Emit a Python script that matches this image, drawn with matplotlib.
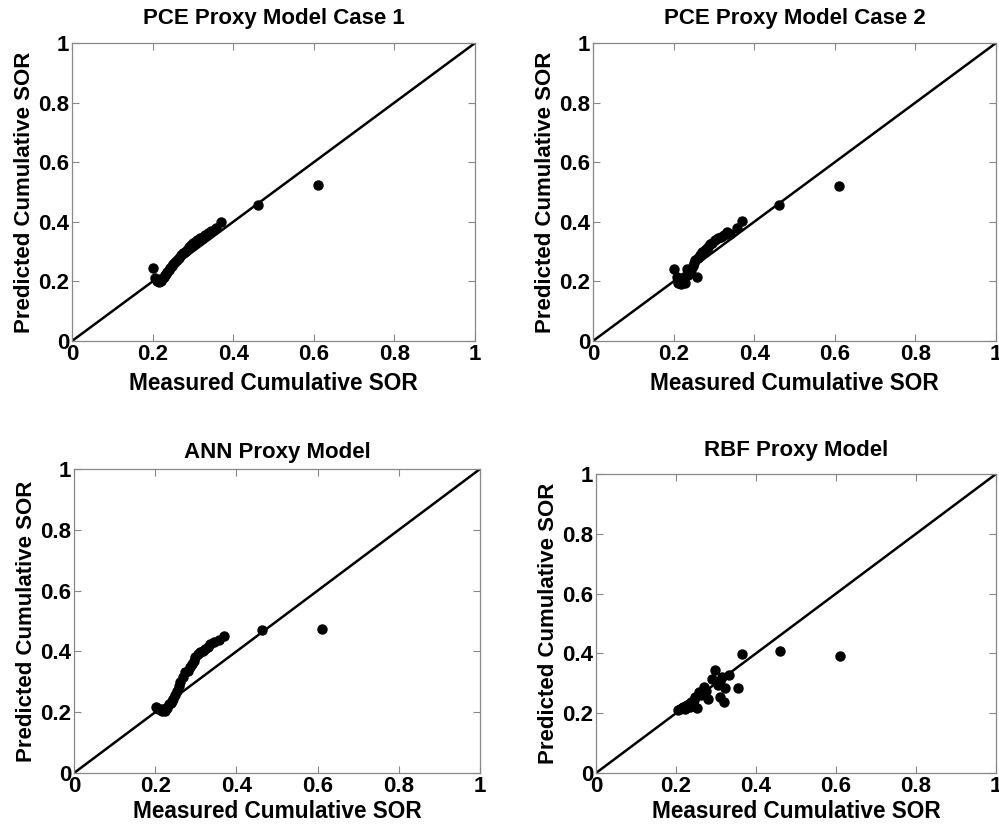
import matplotlib
matplotlib.use("Agg")
from matplotlib import pyplot as plt

# Measured vs predicted cumulative SOR
pce1_meas = [0.200, 0.205, 0.210, 0.212, 0.215, 0.218, 0.220, 0.222, 0.225, 0.228,
             0.230, 0.233, 0.236, 0.240, 0.243, 0.247, 0.250, 0.255, 0.260, 0.265,
             0.270, 0.275, 0.280, 0.285, 0.290, 0.295, 0.300, 0.305, 0.310, 0.318,
             0.325, 0.330, 0.337, 0.345, 0.357, 0.369, 0.462, 0.610]
pce1_pred = [0.245, 0.212, 0.205, 0.200, 0.198, 0.202, 0.208, 0.200, 0.210, 0.215,
             0.222, 0.226, 0.232, 0.238, 0.245, 0.252, 0.258, 0.265, 0.272, 0.280,
             0.288, 0.295, 0.300, 0.306, 0.315, 0.322, 0.328, 0.333, 0.339, 0.345,
             0.350, 0.356, 0.362, 0.370, 0.379, 0.400, 0.458, 0.525]

pce2_meas = [0.202, 0.208, 0.212, 0.215, 0.218, 0.222, 0.225, 0.228, 0.232, 0.236,
             0.240, 0.243, 0.247, 0.250, 0.253, 0.257, 0.260, 0.265, 0.270, 0.275,
             0.280, 0.285, 0.290, 0.295, 0.303, 0.310, 0.318, 0.325, 0.332, 0.340,
             0.357, 0.369, 0.462, 0.610]
pce2_pred = [0.240, 0.215, 0.195, 0.205, 0.190, 0.200, 0.215, 0.195, 0.243, 0.222,
             0.230, 0.238, 0.250, 0.262, 0.271, 0.215, 0.280, 0.288, 0.298, 0.302,
             0.310, 0.315, 0.325, 0.330, 0.338, 0.345, 0.350, 0.356, 0.366, 0.360,
             0.380, 0.402, 0.458, 0.520]

ann_meas = [0.202, 0.208, 0.212, 0.216, 0.220, 0.224, 0.228, 0.233, 0.238, 0.242,
            0.245, 0.249, 0.253, 0.258, 0.262, 0.268, 0.274, 0.280, 0.285, 0.290,
            0.295, 0.299, 0.305, 0.311, 0.317, 0.323, 0.330, 0.336, 0.346, 0.356,
            0.369, 0.462, 0.610]
ann_pred = [0.216, 0.212, 0.210, 0.205, 0.210, 0.205, 0.215, 0.227, 0.230, 0.238,
            0.243, 0.255, 0.271, 0.285, 0.298, 0.315, 0.331, 0.335, 0.348, 0.359,
            0.370, 0.380, 0.390, 0.397, 0.400, 0.408, 0.415, 0.425, 0.430, 0.438,
            0.452, 0.469, 0.475]

rbf_meas = [0.205, 0.210, 0.215, 0.218, 0.222, 0.225, 0.228, 0.232, 0.235, 0.238,
            0.242, 0.245, 0.248, 0.253, 0.257, 0.262, 0.269, 0.275, 0.281, 0.290,
            0.298, 0.305, 0.310, 0.310, 0.315, 0.320, 0.322, 0.333, 0.356, 0.366,
            0.459, 0.610]
rbf_pred = [0.212, 0.215, 0.218, 0.222, 0.215, 0.225, 0.228, 0.232, 0.222, 0.238,
            0.230, 0.245, 0.255, 0.219, 0.270, 0.262, 0.289, 0.275, 0.248, 0.314,
            0.345, 0.295, 0.307, 0.255, 0.320, 0.238, 0.285, 0.329, 0.285, 0.398,
            0.407, 0.390]

titles = ["PCE Proxy Model Case 1", "PCE Proxy Model Case 2",
          "ANN Proxy Model", "RBF Proxy Model"]
series = [(pce1_meas, pce1_pred), (pce2_meas, pce2_pred),
          (ann_meas, ann_pred), (rbf_meas, rbf_pred)]
ticks = [0, 0.2, 0.4, 0.6, 0.8, 1]
tick_labels = ["0", "0.2", "0.4", "0.6", "0.8", "1"]

plt.rcParams['font.family'] = ['Liberation Sans', 'DejaVu Sans']
plt.rcParams['font.weight'] = 'bold'

fig = plt.figure(figsize=(9.99, 8.24), dpi=100)

# axes boxes in figure fractions: left, bottom, width, height
boxes = [
    [0.0721, 0.5862, 0.4034, 0.3616],
    [0.5936, 0.5862, 0.4034, 0.3616],
    [0.0741, 0.0619, 0.4064, 0.3689],
    [0.5966, 0.0619, 0.4004, 0.3629],
]
title_pads = [14, 14, 8, 13]
xlabel_pads = [5, 5, 2, 2]

for i, (box, title, (meas, pred)) in enumerate(zip(boxes, titles, series)):
    ax = fig.add_axes(box)
    ax.plot([0, 1], [0, 1], color='black', linewidth=1.8)
    ax.plot(meas, pred, 'o', color='black', markersize=6.5)
    ax.set_xlim(0, 1)
    ax.set_ylim(0, 1)
    ax.set_xticks(ticks)
    ax.set_yticks(ticks)
    ax.set_xticklabels(tick_labels)
    ax.set_yticklabels(tick_labels)
    ax.tick_params(direction='in', length=5, width=0.8, color='#888888',
                   top=True, right=True, labelsize=16, pad=2)
    for sp in ax.spines.values():
        sp.set_color('#888888')
        sp.set_linewidth(0.9)
    ax.set_title(title, fontsize=16, fontweight='bold', pad=title_pads[i])
    ax.set_xlabel("Measured Cumulative SOR", fontsize=16.3, fontweight='bold',
                  labelpad=xlabel_pads[i])
    ax.set_ylabel("Predicted Cumulative SOR", fontsize=16, fontweight='bold', labelpad=2)

fig.savefig("out.png", dpi=100)
